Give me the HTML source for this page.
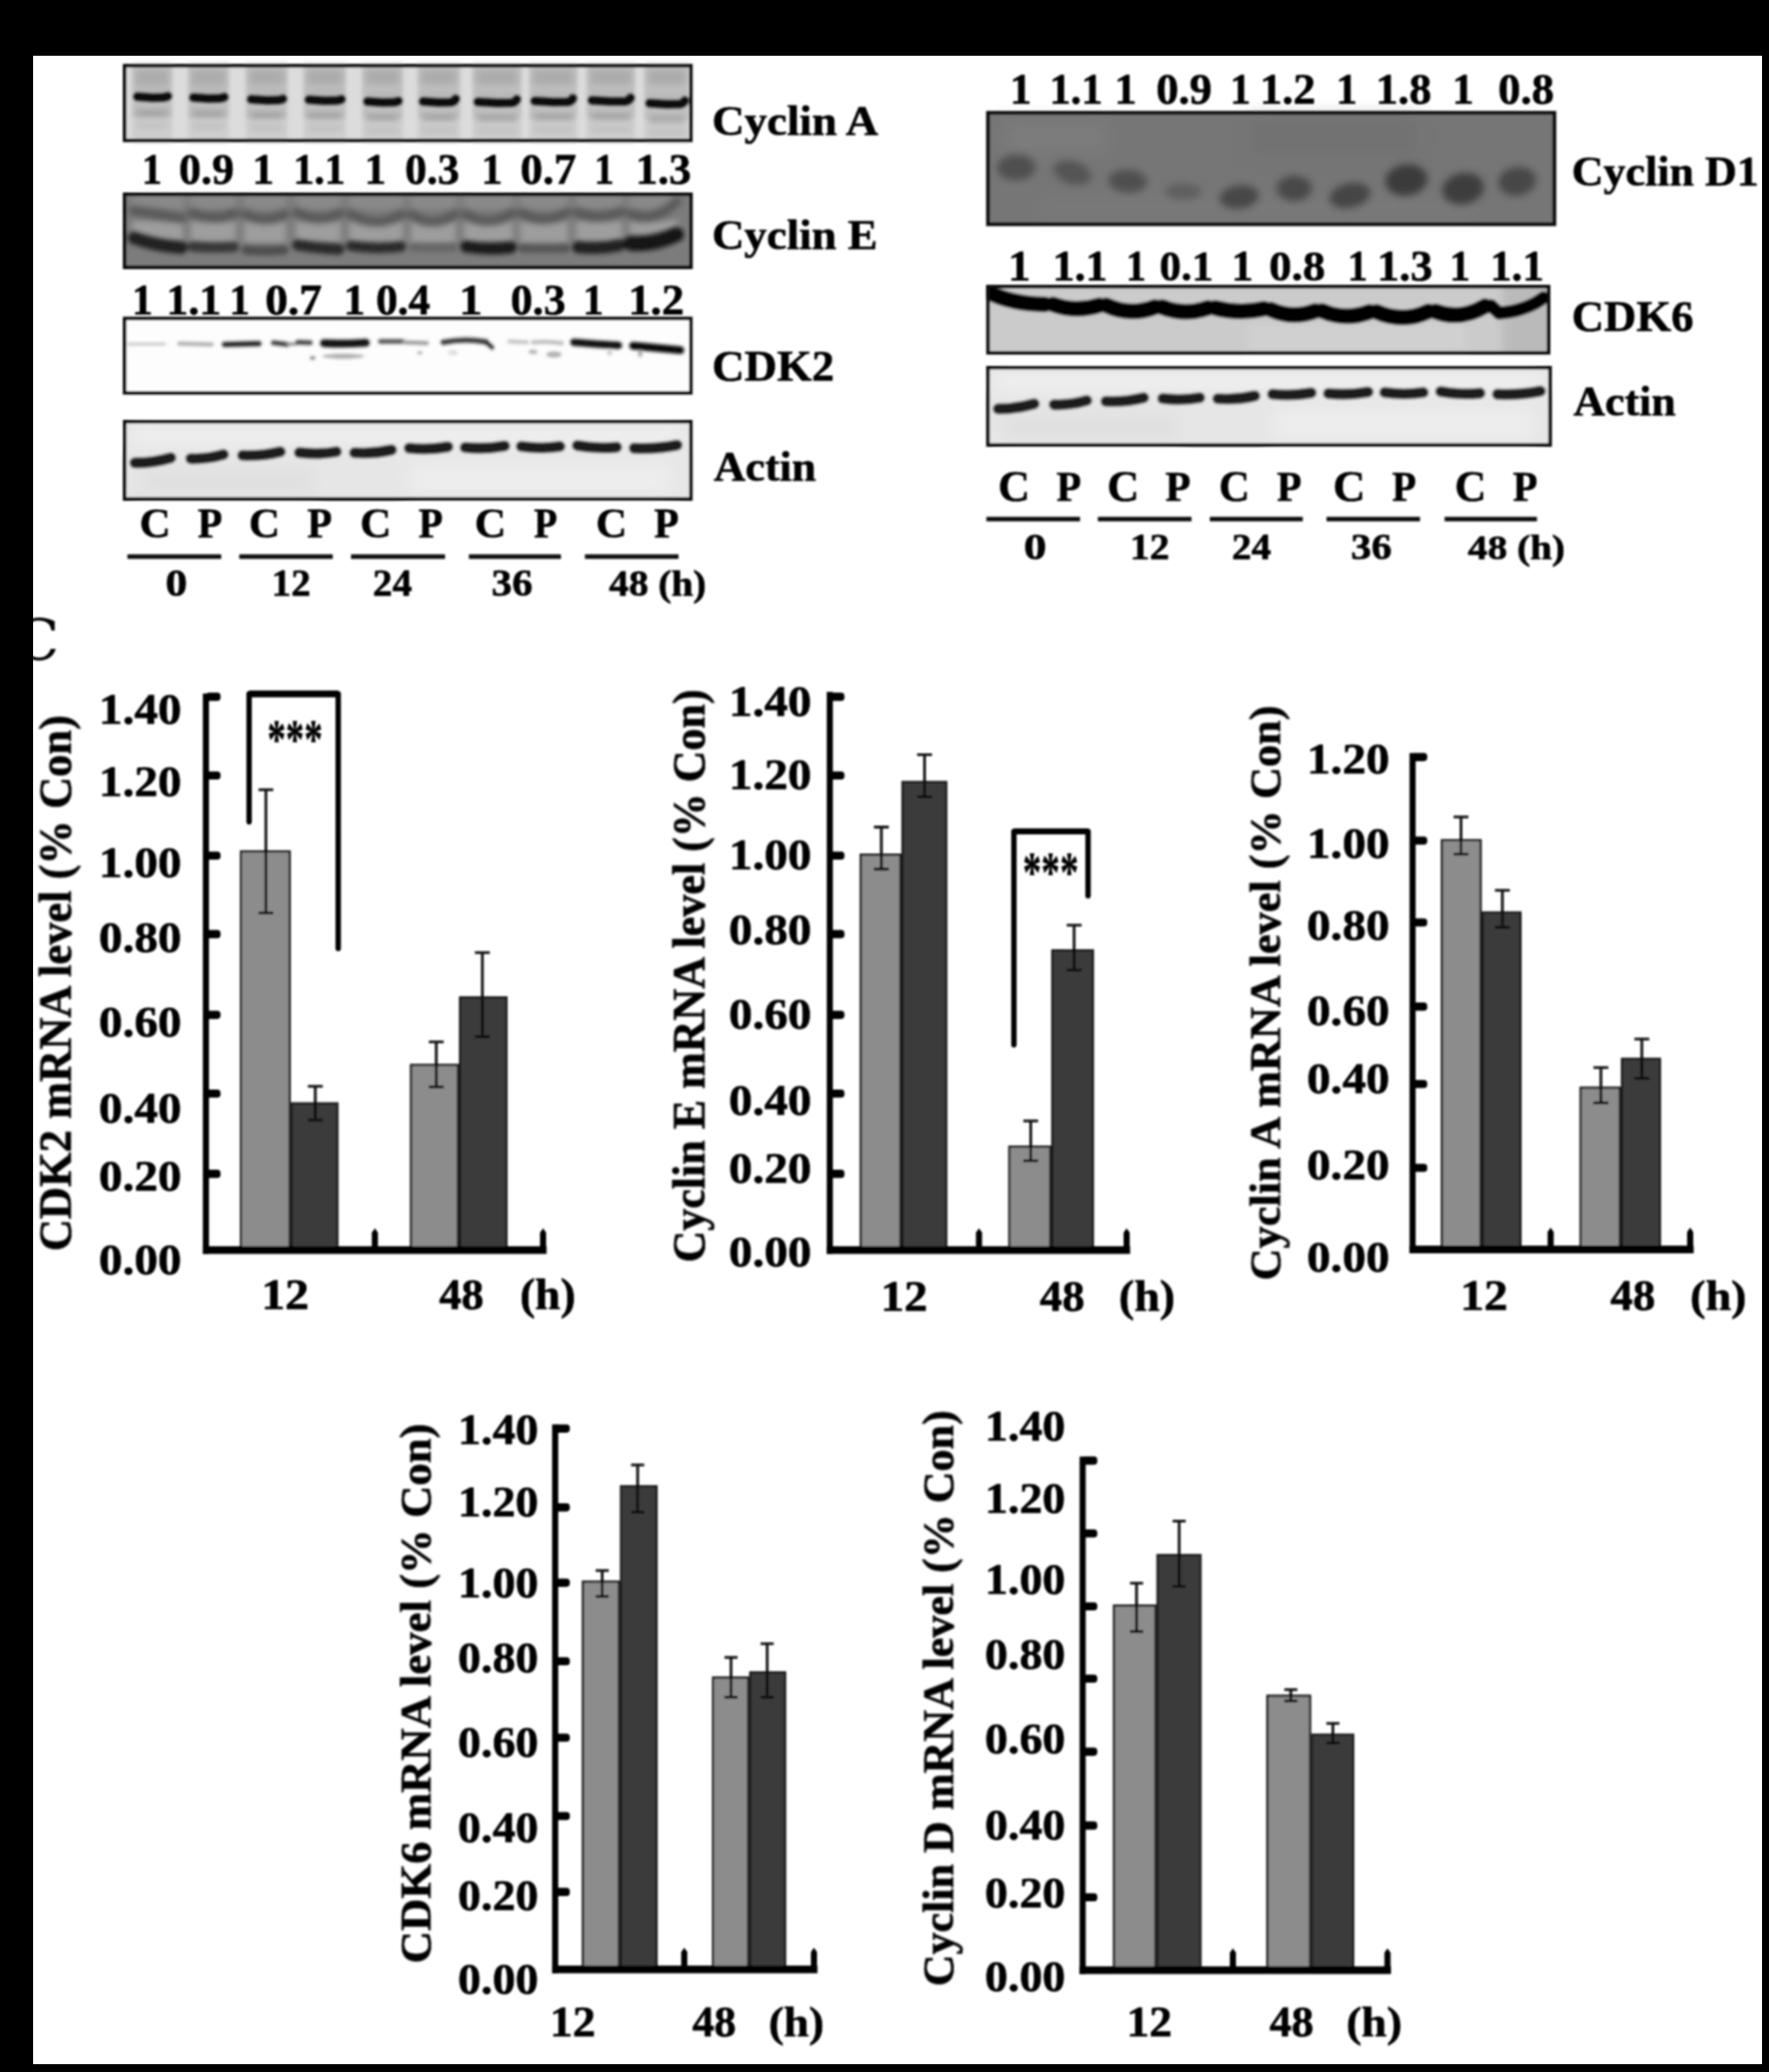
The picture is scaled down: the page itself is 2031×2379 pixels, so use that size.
<!DOCTYPE html>
<html lang="en"><head><meta charset="utf-8"><title>Figure</title>
<style>
html,body{margin:0;padding:0;background:#000;}
body{width:2031px;height:2379px;overflow:hidden;}
svg{display:block;font-family:"Liberation Serif","Times New Roman",serif;}
</style></head><body>
<svg width="2031" height="2379" viewBox="0 0 2031 2379">
<defs>
<filter id="b1" filterUnits="userSpaceOnUse" x="0" y="0" width="2031" height="2379"><feGaussianBlur stdDeviation="1.2"/></filter>
<filter id="b15" filterUnits="userSpaceOnUse" x="0" y="0" width="2031" height="2379"><feGaussianBlur stdDeviation="1.6"/></filter>
<filter id="b2" filterUnits="userSpaceOnUse" x="0" y="0" width="2031" height="2379"><feGaussianBlur stdDeviation="2.2"/></filter>
<filter id="b25" filterUnits="userSpaceOnUse" x="0" y="0" width="2031" height="2379"><feGaussianBlur stdDeviation="2.8"/></filter>
<filter id="b3" filterUnits="userSpaceOnUse" x="0" y="0" width="2031" height="2379"><feGaussianBlur stdDeviation="3.5"/></filter>
<filter id="b35" filterUnits="userSpaceOnUse" x="0" y="0" width="2031" height="2379"><feGaussianBlur stdDeviation="3.4"/></filter>
<filter id="b4" filterUnits="userSpaceOnUse" x="0" y="0" width="2031" height="2379"><feGaussianBlur stdDeviation="4.2"/></filter>
<filter id="b8" filterUnits="userSpaceOnUse" x="0" y="0" width="2031" height="2379"><feGaussianBlur stdDeviation="9"/></filter>
<filter id="b5" filterUnits="userSpaceOnUse" x="0" y="0" width="2031" height="2379"><feGaussianBlur stdDeviation="5"/></filter>
<filter id="soft" filterUnits="userSpaceOnUse" x="0" y="0" width="2031" height="2379"><feGaussianBlur stdDeviation="0.8"/></filter>
<clipPath id="pageclip"><rect x="38" y="64" width="1985" height="2306"/></clipPath>
</defs>
<rect x="0" y="0" width="2031" height="2379" fill="#000"/>
<rect x="38" y="64" width="1985" height="2306" fill="#fff"/>
<g filter="url(#soft)">

<rect x="141" y="73.3" width="654.3" height="90.00000000000001" fill="#dcdcdc"/>
<g filter="url(#b2)">
<rect x="151.7" y="73.3" width="46.0" height="90.00000000000001" fill="#cecece"/>
<rect x="151.7" y="73.3" width="46.0" height="62" fill="#c0c0c0"/>
<rect x="216.0" y="73.3" width="46.6" height="90.00000000000001" fill="#cecece"/>
<rect x="216.0" y="73.3" width="46.6" height="62" fill="#c0c0c0"/>
<rect x="282.3" y="73.3" width="47.6" height="90.00000000000001" fill="#cecece"/>
<rect x="282.3" y="73.3" width="47.6" height="62" fill="#c0c0c0"/>
<rect x="348.6" y="73.3" width="48.4" height="90.00000000000001" fill="#cecece"/>
<rect x="348.6" y="73.3" width="48.4" height="62" fill="#c0c0c0"/>
<rect x="415.9" y="73.3" width="46.5" height="90.00000000000001" fill="#cecece"/>
<rect x="415.9" y="73.3" width="46.5" height="62" fill="#c0c0c0"/>
<rect x="479.7" y="73.3" width="48.5" height="90.00000000000001" fill="#cecece"/>
<rect x="479.7" y="73.3" width="48.5" height="62" fill="#c0c0c0"/>
<rect x="542.6" y="73.3" width="55.8" height="90.00000000000001" fill="#cecece"/>
<rect x="542.6" y="73.3" width="55.8" height="62" fill="#c0c0c0"/>
<rect x="607.9" y="73.3" width="54.8" height="90.00000000000001" fill="#cecece"/>
<rect x="607.9" y="73.3" width="54.8" height="62" fill="#c0c0c0"/>
<rect x="673.6" y="73.3" width="55.4" height="90.00000000000001" fill="#cecece"/>
<rect x="673.6" y="73.3" width="55.4" height="62" fill="#c0c0c0"/>
<rect x="739.8" y="73.3" width="51.5" height="90.00000000000001" fill="#cecece"/>
<rect x="739.8" y="73.3" width="51.5" height="62" fill="#c0c0c0"/>
</g>
<g filter="url(#b3)">
<rect x="155.7" y="80.3" width="38.0" height="17" fill="#a6a6a6" opacity="0.75"/>
<rect x="155.7" y="99.5" width="38.0" height="10" fill="#b0b0b0" opacity="0.6"/>
<rect x="156.7" y="126.5" width="36.0" height="6" fill="#8e8e8e" opacity="0.8"/>
<rect x="156.7" y="141.5" width="36.0" height="5" fill="#b4b4b4" opacity="0.7"/>
<rect x="220.0" y="80.3" width="38.6" height="17" fill="#a6a6a6" opacity="0.75"/>
<rect x="220.0" y="100.5" width="38.6" height="10" fill="#b0b0b0" opacity="0.6"/>
<rect x="221.0" y="127.5" width="36.6" height="6" fill="#8e8e8e" opacity="0.8"/>
<rect x="221.0" y="142.5" width="36.6" height="5" fill="#b4b4b4" opacity="0.7"/>
<rect x="286.3" y="80.3" width="39.6" height="17" fill="#a6a6a6" opacity="0.75"/>
<rect x="286.3" y="102.5" width="39.6" height="10" fill="#b0b0b0" opacity="0.6"/>
<rect x="287.3" y="129.5" width="37.6" height="6" fill="#8e8e8e" opacity="0.8"/>
<rect x="287.3" y="144.5" width="37.6" height="5" fill="#b4b4b4" opacity="0.7"/>
<rect x="352.6" y="80.3" width="40.4" height="17" fill="#a6a6a6" opacity="0.75"/>
<rect x="352.6" y="103.0" width="40.4" height="10" fill="#b0b0b0" opacity="0.6"/>
<rect x="353.6" y="130.0" width="38.4" height="6" fill="#8e8e8e" opacity="0.8"/>
<rect x="353.6" y="145.0" width="38.4" height="5" fill="#b4b4b4" opacity="0.7"/>
<rect x="419.9" y="80.3" width="38.5" height="17" fill="#a6a6a6" opacity="0.75"/>
<rect x="419.9" y="105.0" width="38.5" height="10" fill="#b0b0b0" opacity="0.6"/>
<rect x="420.9" y="132.0" width="36.5" height="6" fill="#8e8e8e" opacity="0.8"/>
<rect x="420.9" y="147.0" width="36.5" height="5" fill="#b4b4b4" opacity="0.7"/>
<rect x="483.7" y="80.3" width="40.5" height="17" fill="#a6a6a6" opacity="0.75"/>
<rect x="483.7" y="105.0" width="40.5" height="10" fill="#b0b0b0" opacity="0.6"/>
<rect x="484.7" y="132.0" width="38.5" height="6" fill="#8e8e8e" opacity="0.8"/>
<rect x="484.7" y="147.0" width="38.5" height="5" fill="#b4b4b4" opacity="0.7"/>
<rect x="546.6" y="80.3" width="47.8" height="17" fill="#a6a6a6" opacity="0.75"/>
<rect x="546.6" y="105.5" width="47.8" height="10" fill="#b0b0b0" opacity="0.6"/>
<rect x="547.6" y="132.5" width="45.8" height="6" fill="#8e8e8e" opacity="0.8"/>
<rect x="547.6" y="147.5" width="45.8" height="5" fill="#b4b4b4" opacity="0.7"/>
<rect x="611.9" y="80.3" width="46.8" height="17" fill="#a6a6a6" opacity="0.75"/>
<rect x="611.9" y="104.4" width="46.8" height="10" fill="#b0b0b0" opacity="0.6"/>
<rect x="612.9" y="131.4" width="44.8" height="6" fill="#8e8e8e" opacity="0.8"/>
<rect x="612.9" y="146.4" width="44.8" height="5" fill="#b4b4b4" opacity="0.7"/>
<rect x="677.6" y="80.3" width="47.4" height="17" fill="#a6a6a6" opacity="0.75"/>
<rect x="677.6" y="103.8" width="47.4" height="10" fill="#b0b0b0" opacity="0.6"/>
<rect x="678.6" y="130.8" width="45.4" height="6" fill="#8e8e8e" opacity="0.8"/>
<rect x="678.6" y="145.8" width="45.4" height="5" fill="#b4b4b4" opacity="0.7"/>
<rect x="743.8" y="80.3" width="43.5" height="17" fill="#a6a6a6" opacity="0.75"/>
<rect x="743.8" y="107.0" width="43.5" height="10" fill="#b0b0b0" opacity="0.6"/>
<rect x="744.8" y="134.0" width="41.5" height="6" fill="#8e8e8e" opacity="0.8"/>
<rect x="744.8" y="149.0" width="41.5" height="5" fill="#b4b4b4" opacity="0.7"/>
</g>
<g filter="url(#b1)" fill="none" stroke="#0e0e0e" stroke-linecap="round" stroke-linejoin="round">
<path d="M157.7,111.0 L174.7,112.3 L186.7,112.1 Q190.7,111.5 192.7,110.5" stroke-width="10"/>
<path d="M222.0,112.0 L239.3,113.3 L251.6,113.1 Q255.6,112.5 257.6,111.5" stroke-width="10"/>
<path d="M288.3,114.0 L306.1,115.3 L318.9,115.1 Q322.9,114.5 324.9,113.5" stroke-width="10"/>
<path d="M354.6,114.5 L372.8,115.8 L386.0,115.6 Q390.0,115.0 392.0,114.0" stroke-width="10"/>
<path d="M421.9,116.5 L439.1,117.8 L451.4,117.6 Q455.4,117.0 457.4,116.0" stroke-width="10"/>
<path d="M485.7,116.5 L504.0,117.8 L517.2,117.6 Q521.2,117.0 523.2,113.5" stroke-width="10"/>
<path d="M548.6,117.0 L570.5,118.3 L587.4,118.1 Q591.4,117.5 593.4,114.0" stroke-width="10"/>
<path d="M613.9,115.9 L635.3,117.2 L651.7,117.0 Q655.7,116.4 657.7,112.9" stroke-width="10"/>
<path d="M679.6,115.3 L701.3,116.6 L718.0,116.4 Q722.0,115.8 724.0,112.3" stroke-width="10"/>
<path d="M745.8,118.5 L765.5,119.8 L780.3,119.6 Q784.3,119.0 786.3,115.5" stroke-width="10"/>
</g>
<rect x="143.1" y="75.4" width="650.1" height="85.8" fill="none" stroke="#101010" stroke-width="4.2"/>
<rect x="141" y="221" width="654.3" height="88" fill="#7c7c7c"/>
<g filter="url(#b3)">
<rect x="152.0" y="253.0" width="58.0" height="26" fill="#9e9e9e"/>
<rect x="152.0" y="225.0" width="58.0" height="15" fill="#8a8a8a"/>
<rect x="219.0" y="253.0" width="51.5" height="26" fill="#9e9e9e"/>
<rect x="219.0" y="225.0" width="51.5" height="15" fill="#8a8a8a"/>
<rect x="280.4" y="253.0" width="47.6" height="26" fill="#9e9e9e"/>
<rect x="280.4" y="225.0" width="47.6" height="15" fill="#8a8a8a"/>
<rect x="339.8" y="253.0" width="51.2" height="26" fill="#9e9e9e"/>
<rect x="339.8" y="225.0" width="51.2" height="15" fill="#8a8a8a"/>
<rect x="401.0" y="253.0" width="61.4" height="26" fill="#9e9e9e"/>
<rect x="401.0" y="225.0" width="61.4" height="15" fill="#8a8a8a"/>
<rect x="471.8" y="253.0" width="51.2" height="26" fill="#9e9e9e"/>
<rect x="471.8" y="225.0" width="51.2" height="15" fill="#8a8a8a"/>
<rect x="533.0" y="253.0" width="55.5" height="26" fill="#9e9e9e"/>
<rect x="533.0" y="225.0" width="55.5" height="15" fill="#8a8a8a"/>
<rect x="597.4" y="253.0" width="54.4" height="26" fill="#9e9e9e"/>
<rect x="597.4" y="225.0" width="54.4" height="15" fill="#8a8a8a"/>
<rect x="661.7" y="253.0" width="52.3" height="26" fill="#9e9e9e"/>
<rect x="661.7" y="225.0" width="52.3" height="15" fill="#8a8a8a"/>
<rect x="723.0" y="253.0" width="55.4" height="26" fill="#9e9e9e"/>
<rect x="723.0" y="225.0" width="55.4" height="15" fill="#8a8a8a"/>
</g>
<g filter="url(#b3)">
<path d="M153.0,241.7 Q181.0,245.9 209.0,250.6" fill="none" stroke="#585858" stroke-width="11" stroke-linecap="round" opacity="1"/>
<path d="M220.0,244.6 Q244.8,254.4 269.5,245.0" fill="none" stroke="#585858" stroke-width="11" stroke-linecap="round" opacity="1"/>
<path d="M281.4,245.6 Q304.2,257.4 327.0,246.0" fill="none" stroke="#585858" stroke-width="11" stroke-linecap="round" opacity="1"/>
<path d="M340.8,244.0 Q365.4,256.7 390.0,245.0" fill="none" stroke="#585858" stroke-width="11" stroke-linecap="round" opacity="1"/>
<path d="M402.0,245.6 Q431.7,263.2 461.4,246.0" fill="none" stroke="#585858" stroke-width="11" stroke-linecap="round" opacity="1"/>
<path d="M472.8,246.6 Q497.4,262.7 522.0,246.0" fill="none" stroke="#585858" stroke-width="11" stroke-linecap="round" opacity="1"/>
<path d="M534.0,246.0 Q560.8,261.5 587.5,245.0" fill="none" stroke="#585858" stroke-width="11" stroke-linecap="round" opacity="1"/>
<path d="M598.4,244.6 Q624.6,258.9 650.8,244.0" fill="none" stroke="#585858" stroke-width="11" stroke-linecap="round" opacity="1"/>
<path d="M662.7,244.0 Q687.9,253.7 713.0,243.0" fill="none" stroke="#585858" stroke-width="11" stroke-linecap="round" opacity="1"/>
<path d="M724.0,245.6 Q750.7,256.9 777.4,231.0" fill="none" stroke="#585858" stroke-width="11" stroke-linecap="round" opacity="1"/>
</g>
<g filter="url(#b25)">
<path d="M154.0,273.3 Q181.0,282.5 208.0,284.2" fill="none" stroke="#242424" stroke-width="15" stroke-linecap="round" opacity="1"/>
<path d="M221.0,283.0 Q244.8,285.2 268.5,283.5" fill="none" stroke="#383838" stroke-width="12" stroke-linecap="round" opacity="1"/>
<path d="M282.4,287.0 Q304.2,289.2 326.0,287.0" fill="none" stroke="#505050" stroke-width="11" stroke-linecap="round" opacity="1"/>
<path d="M341.8,281.3 Q365.4,285.1 389.0,286.2" fill="none" stroke="#2a2a2a" stroke-width="13" stroke-linecap="round" opacity="1"/>
<path d="M403.0,282.3 Q431.7,286.6 460.4,283.0" fill="none" stroke="#2c2c2c" stroke-width="12" stroke-linecap="round" opacity="1"/>
<path d="M473.8,284.0 Q497.4,285.1 521.0,284.0" fill="none" stroke="#686868" stroke-width="10" stroke-linecap="round" opacity="1"/>
<path d="M535.0,283.2 Q560.8,287.3 586.5,284.0" fill="none" stroke="#1e1e1e" stroke-width="14" stroke-linecap="round" opacity="1"/>
<path d="M599.4,285.0 Q624.6,286.1 649.8,285.0" fill="none" stroke="#565656" stroke-width="10" stroke-linecap="round" opacity="1"/>
<path d="M663.7,283.8 Q687.9,286.6 712.0,281.3" fill="none" stroke="#242424" stroke-width="14" stroke-linecap="round" opacity="1"/>
<path d="M725.0,279.3 Q750.7,280.9 776.4,269.4" fill="none" stroke="#141414" stroke-width="18" stroke-linecap="round" opacity="1"/>
</g>
<rect x="143.1" y="223.1" width="650.1" height="83.8" fill="none" stroke="#101010" stroke-width="4.2"/>
<rect x="141" y="363.5" width="654.3" height="89.69999999999999" fill="#fdfdfd"/>
<g filter="url(#b15)">
<path d="M148.0,395.0 Q168.5,395.0 189.0,395.0" fill="none" stroke="#d0d0d0" stroke-width="4" stroke-linecap="round" opacity="1"/>
<path d="M206.0,394.5 Q224.5,395.0 243.0,395.5" fill="none" stroke="#b4b4b4" stroke-width="5" stroke-linecap="round" opacity="1"/>
<path d="M258.0,395.5 Q277.5,395.0 297.0,394.5" fill="none" stroke="#2a2a2a" stroke-width="6.5" stroke-linecap="round" opacity="1"/>
<path d="M314.0,393.5 Q322.0,394.5 330.0,395.5" fill="none" stroke="#4a4a4a" stroke-width="6" stroke-linecap="round" opacity="1"/>
<path d="M331.0,395.0 Q336.0,395.2 341.0,394.5" fill="none" stroke="#999" stroke-width="4" stroke-linecap="round" opacity="1"/>
<path d="M342.0,393.0 Q349.0,392.8 356.0,393.5" fill="none" stroke="#505050" stroke-width="6" stroke-linecap="round" opacity="1"/>
<path d="M372.0,394.0 Q396.0,395.2 420.0,393.5" fill="none" stroke="#121212" stroke-width="9.5" stroke-linecap="round" opacity="1"/>
<path d="M437.0,392.0 Q449.5,392.0 462.0,392.0" fill="none" stroke="#606060" stroke-width="6" stroke-linecap="round" opacity="1"/>
<path d="M464.0,393.0 Q477.0,393.5 490.0,394.0" fill="none" stroke="#a0a0a0" stroke-width="5" stroke-linecap="round" opacity="1"/>
<path d="M509.0,393.0 Q533.5,388.2 558.0,392.5" fill="none" stroke="#404040" stroke-width="6.5" stroke-linecap="round" opacity="1"/>
<path d="M559.0,394.0 Q562.0,395.5 565.0,399.0" fill="none" stroke="#333" stroke-width="5" stroke-linecap="round" opacity="1"/>
<path d="M585.0,392.0 Q595.0,392.5 605.0,393.0" fill="none" stroke="#c8c8c8" stroke-width="5" stroke-linecap="round" opacity="1"/>
<path d="M612.0,393.0 Q628.5,391.5 645.0,394.0" fill="none" stroke="#c0c0c0" stroke-width="5" stroke-linecap="round" opacity="1"/>
<path d="M659.0,393.0 Q684.5,395.2 710.0,396.5" fill="none" stroke="#181818" stroke-width="9" stroke-linecap="round" opacity="1"/>
<path d="M727.0,397.0 Q754.0,399.5 781.0,402.0" fill="none" stroke="#0c0c0c" stroke-width="9.5" stroke-linecap="round" opacity="1"/>
<g fill="#b0b0b0"><ellipse cx="394" cy="409" rx="24" ry="3"/><ellipse cx="359" cy="411" rx="3" ry="2.2" fill="#888"/><ellipse cx="636" cy="407" rx="9" ry="3.5"/><ellipse cx="612" cy="404" rx="5" ry="2.5"/><ellipse cx="482" cy="405" rx="3" ry="2"/><ellipse cx="700" cy="405" rx="3" ry="3" fill="#ccc"/><ellipse cx="735" cy="406" rx="2.5" ry="4" fill="#aaa"/><ellipse cx="520" cy="405" rx="6" ry="3" fill="#ddd"/></g>
</g>
<rect x="143.1" y="365.6" width="650.1" height="85.5" fill="none" stroke="#101010" stroke-width="4.2"/>
<rect x="141" y="482" width="654.3" height="93" fill="#e6e6e6"/>
<g filter="url(#b8)" opacity="0.6"><rect x="151" y="490" width="634.3" height="22" fill="#f4f4f4"/><rect x="471" y="532" width="300" height="35" fill="#f2f2f2"/><rect x="161" y="537" width="200" height="30" fill="#dcdcdc"/></g>
<g filter="url(#b1)">
<path d="M154.8,531.4 Q175.5,531.7 196.2,525.6" fill="none" stroke="#1c1c1c" stroke-width="11.6" stroke-linecap="round" opacity="1"/>
<path d="M219.0,526.6 Q237.8,527.4 256.6,521.8" fill="none" stroke="#1c1c1c" stroke-width="11.6" stroke-linecap="round" opacity="1"/>
<path d="M278.5,522.8 Q300.2,523.9 321.9,518.6" fill="none" stroke="#1c1c1c" stroke-width="11.6" stroke-linecap="round" opacity="1"/>
<path d="M343.7,519.6 Q364.9,522.3 386.2,518.6" fill="none" stroke="#1c1c1c" stroke-width="11.6" stroke-linecap="round" opacity="1"/>
<path d="M407.0,519.8 Q428.2,521.4 449.5,516.5" fill="none" stroke="#1c1c1c" stroke-width="11.6" stroke-linecap="round" opacity="1"/>
<path d="M469.8,514.6 Q492.0,517.0 514.3,513.0" fill="none" stroke="#1c1c1c" stroke-width="11.6" stroke-linecap="round" opacity="1"/>
<path d="M534.0,513.8 Q556.8,516.1 579.5,512.0" fill="none" stroke="#1c1c1c" stroke-width="11.6" stroke-linecap="round" opacity="1"/>
<path d="M598.5,512.5 Q620.7,515.8 642.9,512.6" fill="none" stroke="#1c1c1c" stroke-width="11.6" stroke-linecap="round" opacity="1"/>
<path d="M662.8,511.5 Q685.4,515.7 708.0,513.4" fill="none" stroke="#1c1c1c" stroke-width="11.6" stroke-linecap="round" opacity="1"/>
<path d="M728.0,514.6 Q752.7,516.0 777.4,511.0" fill="none" stroke="#1c1c1c" stroke-width="11.6" stroke-linecap="round" opacity="1"/>
</g>
<rect x="143.1" y="484.1" width="650.1" height="88.8" fill="none" stroke="#101010" stroke-width="4.2"/>
<rect x="1132.2" y="420" width="649.5999999999999" height="93" fill="#e6e6e6"/>
<g filter="url(#b8)" opacity="0.6"><rect x="1142.2" y="428" width="629.5999999999999" height="22" fill="#f4f4f4"/><rect x="1462.2" y="470" width="300" height="35" fill="#f2f2f2"/><rect x="1152.2" y="475" width="200" height="30" fill="#dcdcdc"/></g>
<g filter="url(#b1)">
<path d="M1146.0,469.4 Q1166.7,469.7 1187.4,463.6" fill="none" stroke="#1c1c1c" stroke-width="11.6" stroke-linecap="round" opacity="1"/>
<path d="M1210.2,464.6 Q1229.0,465.4 1247.8,459.8" fill="none" stroke="#1c1c1c" stroke-width="11.6" stroke-linecap="round" opacity="1"/>
<path d="M1269.7,460.8 Q1291.4,461.9 1313.1,456.6" fill="none" stroke="#1c1c1c" stroke-width="11.6" stroke-linecap="round" opacity="1"/>
<path d="M1334.9,457.6 Q1356.2,460.3 1377.4,456.6" fill="none" stroke="#1c1c1c" stroke-width="11.6" stroke-linecap="round" opacity="1"/>
<path d="M1398.2,457.8 Q1419.5,459.4 1440.7,454.5" fill="none" stroke="#1c1c1c" stroke-width="11.6" stroke-linecap="round" opacity="1"/>
<path d="M1461.0,452.6 Q1483.2,455.0 1505.5,451.0" fill="none" stroke="#1c1c1c" stroke-width="11.6" stroke-linecap="round" opacity="1"/>
<path d="M1525.2,451.8 Q1548.0,454.1 1570.7,450.0" fill="none" stroke="#1c1c1c" stroke-width="11.6" stroke-linecap="round" opacity="1"/>
<path d="M1589.7,450.5 Q1611.9,453.8 1634.1,450.6" fill="none" stroke="#1c1c1c" stroke-width="11.6" stroke-linecap="round" opacity="1"/>
<path d="M1654.0,449.5 Q1676.6,453.7 1699.2,451.4" fill="none" stroke="#1c1c1c" stroke-width="11.6" stroke-linecap="round" opacity="1"/>
<path d="M1719.2,452.6 Q1743.9,454.0 1768.6,449.0" fill="none" stroke="#1c1c1c" stroke-width="11.6" stroke-linecap="round" opacity="1"/>
</g>
<rect x="1134.3" y="422.1" width="645.4" height="88.8" fill="none" stroke="#101010" stroke-width="4.2"/>
<rect x="1132.3" y="127.5" width="654.3" height="132.0" fill="#767676"/>
<g filter="url(#b8)" opacity="0.45"><rect x="1152.3" y="137.5" width="120" height="40" fill="#828282"/><rect x="1432.3" y="132.5" width="200" height="50" fill="#6e6e6e"/><rect x="1192.3" y="224.5" width="500" height="25" fill="#7e7e7e"/></g>
<g filter="url(#b4)">
<ellipse cx="1166.8" cy="192.2" rx="22.1" ry="14.8" fill="#505050" transform="rotate(-1.0 1166.8 192.2)"/>
<path d="M1153.7,197.0 Q1166.8,175.5 1180.0,196.0" fill="none" stroke="#505050" stroke-width="9.5" stroke-linecap="round" opacity="0.7"/>
<ellipse cx="1231.2" cy="198.3" rx="22.2" ry="13.3" fill="#545454" transform="rotate(16.9 1231.2 198.3)"/>
<path d="M1218.0,190.0 Q1231.2,189.0 1244.5,208.0" fill="none" stroke="#545454" stroke-width="8.5" stroke-linecap="round" opacity="0.7"/>
<ellipse cx="1294.7" cy="208.0" rx="22.3" ry="13.3" fill="#505050" transform="rotate(3.9 1294.7 208.0)"/>
<path d="M1281.4,210.0 Q1294.7,192.0 1308.0,214.0" fill="none" stroke="#505050" stroke-width="8.5" stroke-linecap="round" opacity="0.7"/>
<ellipse cx="1358.3" cy="220.0" rx="21.6" ry="9.4" fill="#606060" transform="rotate(0.0 1358.3 220.0)"/>
<path d="M1345.7,220.0 Q1358.3,212.0 1371.0,220.0" fill="none" stroke="#606060" stroke-width="6.0" stroke-linecap="round" opacity="0.7"/>
<ellipse cx="1422.8" cy="226.2" rx="22.8" ry="13.3" fill="#464646" transform="rotate(-6.7 1422.8 226.2)"/>
<path d="M1409.0,230.0 Q1422.8,217.5 1436.5,223.0" fill="none" stroke="#464646" stroke-width="8.5" stroke-linecap="round" opacity="0.7"/>
<ellipse cx="1486.0" cy="216.3" rx="20.3" ry="14.8" fill="#4a4a4a" transform="rotate(0.0 1486.0 216.3)"/>
<path d="M1474.7,219.0 Q1486.0,203.0 1497.3,219.0" fill="none" stroke="#4a4a4a" stroke-width="9.5" stroke-linecap="round" opacity="0.7"/>
<ellipse cx="1549.8" cy="224.5" rx="23.8" ry="14.0" fill="#444" transform="rotate(-11.8 1549.8 224.5)"/>
<path d="M1535.0,230.0 Q1549.8,218.5 1564.5,217.0" fill="none" stroke="#444" stroke-width="9.0" stroke-linecap="round" opacity="0.7"/>
<ellipse cx="1614.6" cy="206.7" rx="24.2" ry="17.9" fill="#3a3a3a" transform="rotate(-7.2 1614.6 206.7)"/>
<path d="M1599.4,214.0 Q1614.6,192.0 1629.8,206.0" fill="none" stroke="#3a3a3a" stroke-width="11.5" stroke-linecap="round" opacity="0.7"/>
<ellipse cx="1679.8" cy="216.7" rx="24.1" ry="17.9" fill="#3e3e3e" transform="rotate(-10.7 1679.8 216.7)"/>
<path d="M1664.7,220.0 Q1679.8,214.0 1695.0,208.0" fill="none" stroke="#3e3e3e" stroke-width="11.5" stroke-linecap="round" opacity="0.7"/>
<ellipse cx="1741.8" cy="208.2" rx="21.8" ry="16.4" fill="#464646" transform="rotate(-9.0 1741.8 208.2)"/>
<path d="M1729.0,209.0 Q1741.8,207.5 1754.5,200.0" fill="none" stroke="#464646" stroke-width="10.5" stroke-linecap="round" opacity="0.7"/>
</g>
<rect x="1134.4" y="129.6" width="650.1" height="127.8" fill="none" stroke="#101010" stroke-width="4.2"/>
<rect x="1132.3" y="327" width="647.7" height="80.19999999999999" fill="#cbcbcb"/>
<g clip-path="url(#c6)"><g filter="url(#b5)" opacity="0.6"><rect x="1725" y="307" width="80" height="120.19999999999999" fill="#b0b0b0"/><rect x="1432.3" y="372" width="250" height="30" fill="#d4d4d4"/></g></g>
<clipPath id="c6"><rect x="1132.3" y="327" width="647.7" height="80.19999999999999"/></clipPath>
<g clip-path="url(#c6)"><g filter="url(#b1)">
<path d="M1132,334 Q1160,349 1200,349.5" fill="none" stroke="#060606" stroke-width="17" stroke-linecap="round"/>
<path d="M1209.0,349.5 Q1235.5,359.0 1262.0,350.5" fill="none" stroke="#060606" stroke-width="17" stroke-linecap="round" opacity="1"/>
<path d="M1270.0,350.5 Q1298.0,363.5 1326.0,352.5" fill="none" stroke="#060606" stroke-width="17" stroke-linecap="round" opacity="1"/>
<path d="M1334.0,352.5 Q1360.5,363.0 1387.0,353.5" fill="none" stroke="#060606" stroke-width="17" stroke-linecap="round" opacity="1"/>
<path d="M1395.0,353.5 Q1423.0,361.0 1451.0,354.5" fill="none" stroke="#060606" stroke-width="17" stroke-linecap="round" opacity="1"/>
<path d="M1459.0,355.5 Q1484.5,366.8 1510.0,357.0" fill="none" stroke="#060606" stroke-width="17" stroke-linecap="round" opacity="1"/>
<path d="M1518.0,357.0 Q1545.2,368.5 1572.5,358.0" fill="none" stroke="#060606" stroke-width="17" stroke-linecap="round" opacity="1"/>
<path d="M1580.5,358.0 Q1610.2,371.2 1640.0,357.5" fill="none" stroke="#060606" stroke-width="17" stroke-linecap="round" opacity="1"/>
<path d="M1648.0,357.5 Q1676.5,368.5 1705.0,351.5" fill="none" stroke="#060606" stroke-width="17" stroke-linecap="round" opacity="1"/>
<path d="M1712,351 L1721,359.5 Q1752,357 1772,342" fill="none" stroke="#060606" stroke-width="14" stroke-linecap="round" stroke-linejoin="round"/>
</g></g>
<rect x="1134.4" y="329.1" width="643.5" height="76.0" fill="none" stroke="#101010" stroke-width="4.2"/>
<text transform="translate(162.92,211.20) scale(0.9161,1)" font-size="50.15" font-weight="bold" fill="#000" stroke="#000" stroke-width="0.7">1</text>
<text transform="translate(205.58,211.20) scale(1.0156,1)" font-size="49.77" font-weight="bold" fill="#000" stroke="#000" stroke-width="0.7">0.9</text>
<text transform="translate(289.82,211.20) scale(0.9916,1)" font-size="50.15" font-weight="bold" fill="#000" stroke="#000" stroke-width="0.7">1</text>
<text transform="translate(336.66,211.20) scale(0.9560,1)" font-size="50.15" font-weight="bold" fill="#000" stroke="#000" stroke-width="0.7">1.1</text>
<text transform="translate(418.42,211.20) scale(0.9916,1)" font-size="50.15" font-weight="bold" fill="#000" stroke="#000" stroke-width="0.7">1</text>
<text transform="translate(465.01,211.20) scale(1.0020,1)" font-size="49.77" font-weight="bold" fill="#000" stroke="#000" stroke-width="0.7">0.3</text>
<text transform="translate(552.85,211.20) scale(0.9593,1)" font-size="50.15" font-weight="bold" fill="#000" stroke="#000" stroke-width="0.7">1</text>
<text transform="translate(597.55,211.20) scale(1.0291,1)" font-size="49.77" font-weight="bold" fill="#000" stroke="#000" stroke-width="0.7">0.7</text>
<text transform="translate(682.15,211.20) scale(0.9108,1)" font-size="50.15" font-weight="bold" fill="#000" stroke="#000" stroke-width="0.7">1</text>
<text transform="translate(729.71,211.20) scale(1.0189,1)" font-size="50.15" font-weight="bold" fill="#000" stroke="#000" stroke-width="0.7">1.3</text>
<text transform="translate(151.47,360.80) scale(0.9314,1)" font-size="51.36" font-weight="bold" fill="#000" stroke="#000" stroke-width="0.7">1</text>
<text transform="translate(190.97,360.80) scale(0.9804,1)" font-size="51.36" font-weight="bold" fill="#000" stroke="#000" stroke-width="0.7">1.1</text>
<text transform="translate(263.22,360.80) scale(0.9208,1)" font-size="51.36" font-weight="bold" fill="#000" stroke="#000" stroke-width="0.7">1</text>
<text transform="translate(304.42,360.80) scale(1.0214,1)" font-size="50.98" font-weight="bold" fill="#000" stroke="#000" stroke-width="0.7">0.7</text>
<text transform="translate(394.42,360.80) scale(0.9682,1)" font-size="51.36" font-weight="bold" fill="#000" stroke="#000" stroke-width="0.7">1</text>
<text transform="translate(431.71,360.80) scale(0.9775,1)" font-size="50.98" font-weight="bold" fill="#000" stroke="#000" stroke-width="0.7">0.4</text>
<text transform="translate(526.92,360.80) scale(1.0419,1)" font-size="51.36" font-weight="bold" fill="#000" stroke="#000" stroke-width="0.7">1</text>
<text transform="translate(586.28,360.80) scale(0.9900,1)" font-size="50.98" font-weight="bold" fill="#000" stroke="#000" stroke-width="0.7">0.3</text>
<text transform="translate(669.19,360.80) scale(0.9261,1)" font-size="51.36" font-weight="bold" fill="#000" stroke="#000" stroke-width="0.7">1</text>
<text transform="translate(721.19,360.80) scale(0.9993,1)" font-size="51.36" font-weight="bold" fill="#000" stroke="#000" stroke-width="0.7">1.2</text>
<text transform="translate(160.33,617.00) scale(1.0004,1)" font-size="49.39" font-weight="bold" fill="#000" stroke="#000" stroke-width="0.7">C</text>
<text transform="translate(227.01,617.00) scale(0.9687,1)" font-size="47.63" font-weight="bold" fill="#000" stroke="#000" stroke-width="0.7">P</text>
<text transform="translate(285.83,617.00) scale(1.0004,1)" font-size="49.39" font-weight="bold" fill="#000" stroke="#000" stroke-width="0.7">C</text>
<text transform="translate(352.70,617.00) scale(0.9760,1)" font-size="47.63" font-weight="bold" fill="#000" stroke="#000" stroke-width="0.7">P</text>
<text transform="translate(413.53,617.00) scale(1.0004,1)" font-size="49.39" font-weight="bold" fill="#000" stroke="#000" stroke-width="0.7">C</text>
<text transform="translate(480.52,617.00) scale(0.9576,1)" font-size="47.63" font-weight="bold" fill="#000" stroke="#000" stroke-width="0.7">P</text>
<text transform="translate(545.10,617.00) scale(1.0106,1)" font-size="49.39" font-weight="bold" fill="#000" stroke="#000" stroke-width="0.7">C</text>
<text transform="translate(613.04,617.00) scale(0.9171,1)" font-size="47.63" font-weight="bold" fill="#000" stroke="#000" stroke-width="0.7">P</text>
<text transform="translate(684.13,617.00) scale(1.0004,1)" font-size="49.39" font-weight="bold" fill="#000" stroke="#000" stroke-width="0.7">C</text>
<text transform="translate(750.91,617.00) scale(0.9723,1)" font-size="47.63" font-weight="bold" fill="#000" stroke="#000" stroke-width="0.7">P</text>
<rect x="146.3" y="636.5" width="107.7" height="5.2" fill="#0c0c0c"/>
<rect x="274.7" y="636.5" width="107.3" height="5.2" fill="#0c0c0c"/>
<rect x="403" y="636.5" width="108.0" height="5.2" fill="#0c0c0c"/>
<rect x="538.3" y="636.5" width="105.7" height="5.2" fill="#0c0c0c"/>
<rect x="671.6" y="636.5" width="107.4" height="5.2" fill="#0c0c0c"/>
<text transform="translate(190.00,684.40) scale(1.1310,1)" font-size="44.21" font-weight="bold" fill="#000" stroke="#000" stroke-width="0.7">0</text>
<text transform="translate(311.80,684.40) scale(1.0102,1)" font-size="44.55" font-weight="bold" fill="#000" stroke="#000" stroke-width="0.7">12</text>
<text transform="translate(427.90,684.40) scale(1.0102,1)" font-size="44.55" font-weight="bold" fill="#000" stroke="#000" stroke-width="0.7">24</text>
<text transform="translate(564.35,684.40) scale(1.0564,1)" font-size="44.55" font-weight="bold" fill="#000" stroke="#000" stroke-width="0.7">36</text>
<text transform="translate(699.32,684.40) scale(1.0670,1)" font-size="42.30" font-weight="bold" fill="#000" stroke="#000" stroke-width="0.7">48 (h)</text>
<text transform="translate(817.42,154.70) scale(1.0589,1)" font-size="48.78" font-weight="bold" fill="#000" stroke="#000" stroke-width="0.7">Cyclin A</text>
<text transform="translate(817.43,286.00) scale(1.0519,1)" font-size="48.92" font-weight="bold" fill="#000" stroke="#000" stroke-width="0.7">Cyclin E</text>
<text transform="translate(817.42,437.00) scale(1.0016,1)" font-size="51.52" font-weight="bold" fill="#000" stroke="#000" stroke-width="0.7">CDK2</text>
<text transform="translate(819.50,552.40) scale(1.0472,1)" font-size="48.06" font-weight="bold" fill="#000" stroke="#000" stroke-width="0.7">Actin</text>
<text transform="translate(1159.62,118.50) scale(0.9768,1)" font-size="50.91" font-weight="bold" fill="#000" stroke="#000" stroke-width="0.7">1</text>
<text transform="translate(1204.90,118.50) scale(0.9576,1)" font-size="50.91" font-weight="bold" fill="#000" stroke="#000" stroke-width="0.7">1.1</text>
<text transform="translate(1279.61,118.50) scale(1.0034,1)" font-size="50.91" font-weight="bold" fill="#000" stroke="#000" stroke-width="0.7">1</text>
<text transform="translate(1327.45,118.50) scale(1.0140,1)" font-size="50.53" font-weight="bold" fill="#000" stroke="#000" stroke-width="0.7">0.9</text>
<text transform="translate(1412.22,118.50) scale(0.9291,1)" font-size="50.91" font-weight="bold" fill="#000" stroke="#000" stroke-width="0.7">1</text>
<text transform="translate(1446.40,118.50) scale(1.0065,1)" font-size="50.91" font-weight="bold" fill="#000" stroke="#000" stroke-width="0.7">1.2</text>
<text transform="translate(1534.11,118.50) scale(0.9556,1)" font-size="50.91" font-weight="bold" fill="#000" stroke="#000" stroke-width="0.7">1</text>
<text transform="translate(1579.62,118.50) scale(1.0096,1)" font-size="50.53" font-weight="bold" fill="#000" stroke="#000" stroke-width="0.7">1.8</text>
<text transform="translate(1667.32,118.50) scale(0.9768,1)" font-size="50.91" font-weight="bold" fill="#000" stroke="#000" stroke-width="0.7">1</text>
<text transform="translate(1719.94,118.50) scale(1.0174,1)" font-size="50.53" font-weight="bold" fill="#000" stroke="#000" stroke-width="0.7">0.8</text>
<text transform="translate(1157.49,322.30) scale(1.0333,1)" font-size="49.70" font-weight="bold" fill="#000" stroke="#000" stroke-width="0.7">1</text>
<text transform="translate(1208.46,322.30) scale(1.0151,1)" font-size="49.70" font-weight="bold" fill="#000" stroke="#000" stroke-width="0.7">1.1</text>
<text transform="translate(1292.72,322.30) scale(0.9245,1)" font-size="49.70" font-weight="bold" fill="#000" stroke="#000" stroke-width="0.7">1</text>
<text transform="translate(1331.22,322.30) scale(1.0032,1)" font-size="49.32" font-weight="bold" fill="#000" stroke="#000" stroke-width="0.7">0.1</text>
<text transform="translate(1414.04,322.30) scale(0.9952,1)" font-size="49.70" font-weight="bold" fill="#000" stroke="#000" stroke-width="0.7">1</text>
<text transform="translate(1456.93,322.30) scale(1.0474,1)" font-size="49.32" font-weight="bold" fill="#000" stroke="#000" stroke-width="0.7">0.8</text>
<text transform="translate(1547.32,322.30) scale(0.9245,1)" font-size="49.70" font-weight="bold" fill="#000" stroke="#000" stroke-width="0.7">1</text>
<text transform="translate(1580.91,322.30) scale(1.0283,1)" font-size="49.70" font-weight="bold" fill="#000" stroke="#000" stroke-width="0.7">1.3</text>
<text transform="translate(1664.22,322.30) scale(0.9517,1)" font-size="49.70" font-weight="bold" fill="#000" stroke="#000" stroke-width="0.7">1</text>
<text transform="translate(1711.07,322.30) scale(0.9881,1)" font-size="49.70" font-weight="bold" fill="#000" stroke="#000" stroke-width="0.7">1.1</text>
<text transform="translate(1146.08,574.70) scale(1.0054,1)" font-size="50.15" font-weight="bold" fill="#000" stroke="#000" stroke-width="0.7">C</text>
<text transform="translate(1212.91,574.70) scale(0.9570,1)" font-size="48.40" font-weight="bold" fill="#000" stroke="#000" stroke-width="0.7">P</text>
<text transform="translate(1271.26,574.70) scale(1.0121,1)" font-size="50.15" font-weight="bold" fill="#000" stroke="#000" stroke-width="0.7">C</text>
<text transform="translate(1338.09,574.70) scale(0.9751,1)" font-size="48.40" font-weight="bold" fill="#000" stroke="#000" stroke-width="0.7">P</text>
<text transform="translate(1399.45,574.70) scale(0.9752,1)" font-size="50.15" font-weight="bold" fill="#000" stroke="#000" stroke-width="0.7">C</text>
<text transform="translate(1465.91,574.70) scale(0.9570,1)" font-size="48.40" font-weight="bold" fill="#000" stroke="#000" stroke-width="0.7">P</text>
<text transform="translate(1530.44,574.70) scale(1.0221,1)" font-size="50.15" font-weight="bold" fill="#000" stroke="#000" stroke-width="0.7">C</text>
<text transform="translate(1598.32,574.70) scale(0.9316,1)" font-size="48.40" font-weight="bold" fill="#000" stroke="#000" stroke-width="0.7">P</text>
<text transform="translate(1670.20,574.70) scale(0.9953,1)" font-size="50.15" font-weight="bold" fill="#000" stroke="#000" stroke-width="0.7">C</text>
<text transform="translate(1737.01,574.70) scale(0.9534,1)" font-size="48.40" font-weight="bold" fill="#000" stroke="#000" stroke-width="0.7">P</text>
<rect x="1132.5" y="593.4" width="107.5" height="5.2" fill="#0c0c0c"/>
<rect x="1260.5" y="593.4" width="107.5" height="5.2" fill="#0c0c0c"/>
<rect x="1389" y="593.4" width="106.7" height="5.2" fill="#0c0c0c"/>
<rect x="1523" y="593.4" width="107.3" height="5.2" fill="#0c0c0c"/>
<rect x="1658.6" y="593.4" width="106.0" height="5.2" fill="#0c0c0c"/>
<text transform="translate(1175.62,641.60) scale(1.2154,1)" font-size="42.71" font-weight="bold" fill="#000" stroke="#000" stroke-width="0.7">0</text>
<text transform="translate(1297.36,641.60) scale(1.0563,1)" font-size="43.03" font-weight="bold" fill="#000" stroke="#000" stroke-width="0.7">12</text>
<text transform="translate(1414.20,641.60) scale(1.0482,1)" font-size="43.03" font-weight="bold" fill="#000" stroke="#000" stroke-width="0.7">24</text>
<text transform="translate(1550.96,641.60) scale(1.0886,1)" font-size="43.03" font-weight="bold" fill="#000" stroke="#000" stroke-width="0.7">36</text>
<text transform="translate(1685.32,641.60) scale(1.1045,1)" font-size="40.86" font-weight="bold" fill="#000" stroke="#000" stroke-width="0.7">48 (h)</text>
<text transform="translate(1804.47,212.60) scale(1.0359,1)" font-size="48.78" font-weight="bold" fill="#000" stroke="#000" stroke-width="0.7">Cyclin D1</text>
<text transform="translate(1804.43,380.00) scale(1.0157,1)" font-size="50.61" font-weight="bold" fill="#000" stroke="#000" stroke-width="0.7">CDK6</text>
<text transform="translate(1806.50,476.70) scale(1.0287,1)" font-size="48.92" font-weight="bold" fill="#000" stroke="#000" stroke-width="0.7">Actin</text>
<text transform="translate(17.90,757.60) scale(1.0080,1)" font-size="64.86" font-weight="normal" fill="#000" stroke="#000" stroke-width="0.7" style="font-family:'DejaVu Serif',serif;stroke-width:0">C</text>
<rect x="276.7" y="977.6" width="55.9" height="458.9" fill="#8c8c8c" stroke="#1c1c1c" stroke-width="2.6"/>
<rect x="335.0" y="1266.9" width="52.4" height="169.6" fill="#3a3a3a" stroke="#1c1c1c" stroke-width="2.6"/>
<rect x="471.9" y="1222.8" width="53.9" height="213.7" fill="#8c8c8c" stroke="#1c1c1c" stroke-width="2.6"/>
<rect x="528.2" y="1145.2" width="53.3" height="291.3" fill="#3a3a3a" stroke="#1c1c1c" stroke-width="2.6"/>
<path d="M305.3,906.8 V1048.3 M296.8,906.8 H313.8 M296.8,1048.3 H313.8" fill="none" stroke="#0a0a0a" stroke-width="3.1"/>
<path d="M362.0,1247.3 V1286.0 M353.5,1247.3 H370.5 M353.5,1286.0 H370.5" fill="none" stroke="#0a0a0a" stroke-width="3.1"/>
<path d="M500.9,1196.3 V1248.0 M492.4,1196.3 H509.4 M492.4,1248.0 H509.4" fill="none" stroke="#0a0a0a" stroke-width="3.1"/>
<path d="M553.8,1093.7 V1190.4 M545.3,1093.7 H562.3 M545.3,1190.4 H562.3" fill="none" stroke="#0a0a0a" stroke-width="3.1"/>
<rect x="232.9" y="796.3" width="7" height="643.3" fill="#000"/>
<rect x="232.9" y="1430.9" width="394.6" height="8.8" fill="#000"/>
<rect x="236.4" y="795.3" width="16.8" height="9.4" rx="3.8" fill="#000"/>
<rect x="236.4" y="885.7" width="16.8" height="9.4" rx="3.8" fill="#000"/>
<rect x="236.4" y="977.7" width="16.8" height="9.4" rx="3.8" fill="#000"/>
<rect x="236.4" y="1067.8" width="16.8" height="9.4" rx="3.8" fill="#000"/>
<rect x="236.4" y="1160.5" width="16.8" height="9.4" rx="3.8" fill="#000"/>
<rect x="236.4" y="1250.9" width="16.8" height="9.4" rx="3.8" fill="#000"/>
<rect x="236.4" y="1343.1" width="16.8" height="9.4" rx="3.8" fill="#000"/>
<path d="M426.9,1435.3 V1415.3 L430.4,1410.3 L433.9,1415.3 V1435.3 Z" fill="#000"/>
<path d="M620.0,1435.3 V1415.3 L623.5,1410.3 L627.0,1415.3 V1435.3 Z" fill="#000"/>
<text transform="translate(113.62,830.50) scale(1.0780,1)" font-size="50.23" font-weight="bold" fill="#000" stroke="#000" stroke-width="0.7">1.40</text>
<text transform="translate(113.62,913.60) scale(1.0780,1)" font-size="50.23" font-weight="bold" fill="#000" stroke="#000" stroke-width="0.7">1.20</text>
<text transform="translate(113.62,1006.90) scale(1.0780,1)" font-size="50.23" font-weight="bold" fill="#000" stroke="#000" stroke-width="0.7">1.00</text>
<text transform="translate(113.62,1092.90) scale(1.0780,1)" font-size="50.23" font-weight="bold" fill="#000" stroke="#000" stroke-width="0.7">0.80</text>
<text transform="translate(113.62,1190.20) scale(1.0780,1)" font-size="50.23" font-weight="bold" fill="#000" stroke="#000" stroke-width="0.7">0.60</text>
<text transform="translate(113.62,1289.40) scale(1.0780,1)" font-size="50.23" font-weight="bold" fill="#000" stroke="#000" stroke-width="0.7">0.40</text>
<text transform="translate(113.62,1366.60) scale(1.0780,1)" font-size="50.23" font-weight="bold" fill="#000" stroke="#000" stroke-width="0.7">0.20</text>
<text transform="translate(113.62,1463.20) scale(1.0780,1)" font-size="50.23" font-weight="bold" fill="#000" stroke="#000" stroke-width="0.7">0.00</text>
<text transform="translate(81.29,1436.55) rotate(-90) scale(0.9620,1)" font-size="53.08" font-weight="bold" stroke="#000" stroke-width="0.7">CDK2 mRNA level (% Con)</text>
<text transform="translate(299.91,1503.00) scale(1.0717,1)" font-size="51.21" font-weight="bold" fill="#000" stroke="#000" stroke-width="0.7">12</text>
<text transform="translate(504.23,1503.00) scale(1.0086,1)" font-size="50.83" font-weight="bold" fill="#000" stroke="#000" stroke-width="0.7">48</text>
<text transform="translate(596.95,1503.00) scale(1.0525,1)" font-size="49.64" font-weight="bold" fill="#000" stroke="#000" stroke-width="0.7">(h)</text>
<path d="M286.0,943.6 V796.7 H388.3 V1089.0" fill="none" stroke="#000" stroke-width="6.2" stroke-linecap="round" stroke-linejoin="round"/>
<rect x="286.0" y="792.8" width="102.3" height="7.8" fill="#000"/>
<text transform="translate(306.90,870.19) scale(0.6680,1)" font-size="63.47" font-weight="bold" stroke="#000" stroke-width="0.5">***</text>
<rect x="988.2" y="981.3" width="45.6" height="455.2" fill="#8c8c8c" stroke="#1c1c1c" stroke-width="2.6"/>
<rect x="1036.2" y="897.9" width="50.2" height="538.6" fill="#3a3a3a" stroke="#1c1c1c" stroke-width="2.6"/>
<rect x="1158.9" y="1316.6" width="46.9" height="119.9" fill="#8c8c8c" stroke="#1c1c1c" stroke-width="2.6"/>
<rect x="1208.2" y="1091.2" width="46.6" height="345.3" fill="#3a3a3a" stroke="#1c1c1c" stroke-width="2.6"/>
<path d="M1011.9,949.6 V997.9 M1003.4,949.6 H1020.4 M1003.4,997.9 H1020.4" fill="none" stroke="#0a0a0a" stroke-width="3.1"/>
<path d="M1061.5,866.5 V914.8 M1053.0,866.5 H1070.0 M1053.0,914.8 H1070.0" fill="none" stroke="#0a0a0a" stroke-width="3.1"/>
<path d="M1183.4,1287.0 V1332.8 M1174.9,1287.0 H1191.9 M1174.9,1332.8 H1191.9" fill="none" stroke="#0a0a0a" stroke-width="3.1"/>
<path d="M1233.2,1062.2 V1113.7 M1224.7,1062.2 H1241.7 M1224.7,1113.7 H1241.7" fill="none" stroke="#0a0a0a" stroke-width="3.1"/>
<rect x="949.2" y="794.4" width="7" height="645.2" fill="#000"/>
<rect x="949.2" y="1430.9" width="348.3" height="8.8" fill="#000"/>
<rect x="952.7" y="795.3" width="16.8" height="9.4" rx="3.8" fill="#000"/>
<rect x="952.7" y="885.7" width="16.8" height="9.4" rx="3.8" fill="#000"/>
<rect x="952.7" y="977.7" width="16.8" height="9.4" rx="3.8" fill="#000"/>
<rect x="952.7" y="1067.8" width="16.8" height="9.4" rx="3.8" fill="#000"/>
<rect x="952.7" y="1160.5" width="16.8" height="9.4" rx="3.8" fill="#000"/>
<rect x="952.7" y="1250.9" width="16.8" height="9.4" rx="3.8" fill="#000"/>
<rect x="952.7" y="1343.1" width="16.8" height="9.4" rx="3.8" fill="#000"/>
<path d="M1120.5,1435.3 V1415.3 L1124.0,1410.3 L1127.5,1415.3 V1435.3 Z" fill="#000"/>
<path d="M1290.0,1435.3 V1415.3 L1293.5,1410.3 L1297.0,1415.3 V1435.3 Z" fill="#000"/>
<text transform="translate(836.82,821.50) scale(1.0780,1)" font-size="50.23" font-weight="bold" fill="#000" stroke="#000" stroke-width="0.7">1.40</text>
<text transform="translate(836.82,905.50) scale(1.0780,1)" font-size="50.23" font-weight="bold" fill="#000" stroke="#000" stroke-width="0.7">1.20</text>
<text transform="translate(836.82,997.90) scale(1.0780,1)" font-size="50.23" font-weight="bold" fill="#000" stroke="#000" stroke-width="0.7">1.00</text>
<text transform="translate(836.82,1083.50) scale(1.0780,1)" font-size="50.23" font-weight="bold" fill="#000" stroke="#000" stroke-width="0.7">0.80</text>
<text transform="translate(836.82,1180.90) scale(1.0780,1)" font-size="50.23" font-weight="bold" fill="#000" stroke="#000" stroke-width="0.7">0.60</text>
<text transform="translate(836.82,1280.10) scale(1.0780,1)" font-size="50.23" font-weight="bold" fill="#000" stroke="#000" stroke-width="0.7">0.40</text>
<text transform="translate(836.82,1358.10) scale(1.0780,1)" font-size="50.23" font-weight="bold" fill="#000" stroke="#000" stroke-width="0.7">0.20</text>
<text transform="translate(836.82,1453.90) scale(1.0780,1)" font-size="50.23" font-weight="bold" fill="#000" stroke="#000" stroke-width="0.7">0.00</text>
<text transform="translate(808.80,1449.53) rotate(-90) scale(0.9701,1)" font-size="52.09" font-weight="bold" stroke="#000" stroke-width="0.7">Cyclin E mRNA level (% Con)</text>
<text transform="translate(1011.07,1505.00) scale(1.0500,1)" font-size="51.52" font-weight="bold" fill="#000" stroke="#000" stroke-width="0.7">12</text>
<text transform="translate(1193.83,1505.00) scale(1.0088,1)" font-size="51.13" font-weight="bold" fill="#000" stroke="#000" stroke-width="0.7">48</text>
<text transform="translate(1284.62,1505.00) scale(1.0649,1)" font-size="49.64" font-weight="bold" fill="#000" stroke="#000" stroke-width="0.7">(h)</text>
<path d="M1164.1,1199.6 V954.6 H1249.2 V1028.4" fill="none" stroke="#000" stroke-width="6.2" stroke-linecap="round" stroke-linejoin="round"/>
<rect x="1164.1" y="951.2" width="85.1" height="6.8" fill="#000"/>
<text transform="translate(1174.30,1022.77) scale(0.6575,1)" font-size="64.80" font-weight="bold" stroke="#000" stroke-width="0.5">***</text>
<rect x="1655.4" y="964.7" width="44.5" height="471.1" fill="#8c8c8c" stroke="#1c1c1c" stroke-width="2.6"/>
<rect x="1702.3" y="1047.7" width="43.4" height="388.1" fill="#3a3a3a" stroke="#1c1c1c" stroke-width="2.6"/>
<rect x="1814.8" y="1248.9" width="45.0" height="186.9" fill="#8c8c8c" stroke="#1c1c1c" stroke-width="2.6"/>
<rect x="1862.2" y="1215.7" width="43.6" height="220.1" fill="#3a3a3a" stroke="#1c1c1c" stroke-width="2.6"/>
<path d="M1677.4,938.0 V980.8 M1668.9,938.0 H1685.9 M1668.9,980.8 H1685.9" fill="none" stroke="#0a0a0a" stroke-width="3.1"/>
<path d="M1724.9,1022.3 V1064.7 M1716.4,1022.3 H1733.4 M1716.4,1064.7 H1733.4" fill="none" stroke="#0a0a0a" stroke-width="3.1"/>
<path d="M1838.0,1225.7 V1266.4 M1829.5,1225.7 H1846.5 M1829.5,1266.4 H1846.5" fill="none" stroke="#0a0a0a" stroke-width="3.1"/>
<path d="M1885.0,1193.0 V1238.2 M1876.5,1193.0 H1893.5 M1876.5,1238.2 H1893.5" fill="none" stroke="#0a0a0a" stroke-width="3.1"/>
<rect x="1618.3" y="864.6" width="7" height="574.3" fill="#000"/>
<rect x="1618.3" y="1430.2" width="326.2" height="8.8" fill="#000"/>
<rect x="1621.8" y="864.5" width="16.8" height="9.4" rx="3.8" fill="#000"/>
<rect x="1621.8" y="960.4" width="16.8" height="9.4" rx="3.8" fill="#000"/>
<rect x="1621.8" y="1054.4" width="16.8" height="9.4" rx="3.8" fill="#000"/>
<rect x="1621.8" y="1151.1" width="16.8" height="9.4" rx="3.8" fill="#000"/>
<rect x="1621.8" y="1239.9" width="16.8" height="9.4" rx="3.8" fill="#000"/>
<rect x="1621.8" y="1336.2" width="16.8" height="9.4" rx="3.8" fill="#000"/>
<path d="M1776.8,1434.6 V1414.6 L1780.3,1409.6 L1783.8,1414.6 V1434.6 Z" fill="#000"/>
<path d="M1937.0,1434.6 V1414.6 L1940.5,1409.6 L1944.0,1414.6 V1434.6 Z" fill="#000"/>
<text transform="translate(1500.52,887.80) scale(1.0780,1)" font-size="50.23" font-weight="bold" fill="#000" stroke="#000" stroke-width="0.7">1.20</text>
<text transform="translate(1500.52,985.00) scale(1.0780,1)" font-size="50.23" font-weight="bold" fill="#000" stroke="#000" stroke-width="0.7">1.00</text>
<text transform="translate(1500.52,1079.40) scale(1.0780,1)" font-size="50.23" font-weight="bold" fill="#000" stroke="#000" stroke-width="0.7">0.80</text>
<text transform="translate(1500.52,1176.60) scale(1.0780,1)" font-size="50.23" font-weight="bold" fill="#000" stroke="#000" stroke-width="0.7">0.60</text>
<text transform="translate(1500.52,1255.30) scale(1.0780,1)" font-size="50.23" font-weight="bold" fill="#000" stroke="#000" stroke-width="0.7">0.40</text>
<text transform="translate(1500.52,1354.20) scale(1.0780,1)" font-size="50.23" font-weight="bold" fill="#000" stroke="#000" stroke-width="0.7">0.20</text>
<text transform="translate(1500.52,1459.60) scale(1.0780,1)" font-size="50.23" font-weight="bold" fill="#000" stroke="#000" stroke-width="0.7">0.00</text>
<text transform="translate(1469.60,1470.15) rotate(-90) scale(1.0136,1)" font-size="50.22" font-weight="bold" stroke="#000" stroke-width="0.7">Cyclin A mRNA level (% Con)</text>
<text transform="translate(1676.41,1503.70) scale(1.0846,1)" font-size="50.61" font-weight="bold" fill="#000" stroke="#000" stroke-width="0.7">12</text>
<text transform="translate(1848.93,1503.70) scale(1.0249,1)" font-size="50.23" font-weight="bold" fill="#000" stroke="#000" stroke-width="0.7">48</text>
<text transform="translate(1940.62,1503.70) scale(1.0743,1)" font-size="49.21" font-weight="bold" fill="#000" stroke="#000" stroke-width="0.7">(h)</text>
<rect x="669.2" y="1816.0" width="41.4" height="446.4" fill="#8c8c8c" stroke="#1c1c1c" stroke-width="2.6"/>
<rect x="713.0" y="1706.5" width="40.8" height="555.9" fill="#3a3a3a" stroke="#1c1c1c" stroke-width="2.6"/>
<rect x="818.7" y="1926.1" width="40.3" height="336.3" fill="#8c8c8c" stroke="#1c1c1c" stroke-width="2.6"/>
<rect x="861.4" y="1920.2" width="40.0" height="342.2" fill="#3a3a3a" stroke="#1c1c1c" stroke-width="2.6"/>
<path d="M691.4,1803.3 V1833.0 M683.9,1803.3 H698.9 M683.9,1833.0 H698.9" fill="none" stroke="#0a0a0a" stroke-width="3.1"/>
<path d="M732.1,1682.0 V1736.3 M724.6,1682.0 H739.6 M724.6,1736.3 H739.6" fill="none" stroke="#0a0a0a" stroke-width="3.1"/>
<path d="M839.3,1903.0 V1948.6 M831.8,1903.0 H846.8 M831.8,1948.6 H846.8" fill="none" stroke="#0a0a0a" stroke-width="3.1"/>
<path d="M880.8,1887.3 V1948.6 M873.3,1887.3 H888.3 M873.3,1948.6 H888.3" fill="none" stroke="#0a0a0a" stroke-width="3.1"/>
<rect x="633.9" y="1635.4" width="7" height="630.1" fill="#000"/>
<rect x="633.9" y="2256.8" width="304.6" height="8.8" fill="#000"/>
<rect x="637.4" y="1635.5" width="16.8" height="9.4" rx="3.8" fill="#000"/>
<rect x="637.4" y="1726.0" width="16.8" height="9.4" rx="3.8" fill="#000"/>
<rect x="637.4" y="1812.5" width="16.8" height="9.4" rx="3.8" fill="#000"/>
<rect x="637.4" y="1902.7" width="16.8" height="9.4" rx="3.8" fill="#000"/>
<rect x="637.4" y="1990.4" width="16.8" height="9.4" rx="3.8" fill="#000"/>
<rect x="637.4" y="2080.4" width="16.8" height="9.4" rx="3.8" fill="#000"/>
<rect x="637.4" y="2167.6" width="16.8" height="9.4" rx="3.8" fill="#000"/>
<path d="M782.1,2261.2 V2241.2 L785.6,2236.2 L789.1,2241.2 V2261.2 Z" fill="#000"/>
<path d="M931.0,2261.2 V2241.2 L934.5,2236.2 L938.0,2241.2 V2261.2 Z" fill="#000"/>
<text transform="translate(525.82,1657.50) scale(1.0500,1)" font-size="50.23" font-weight="bold" fill="#000" stroke="#000" stroke-width="0.7">1.40</text>
<text transform="translate(525.82,1740.60) scale(1.0500,1)" font-size="50.23" font-weight="bold" fill="#000" stroke="#000" stroke-width="0.7">1.20</text>
<text transform="translate(525.82,1833.80) scale(1.0500,1)" font-size="50.23" font-weight="bold" fill="#000" stroke="#000" stroke-width="0.7">1.00</text>
<text transform="translate(525.82,1919.50) scale(1.0500,1)" font-size="50.23" font-weight="bold" fill="#000" stroke="#000" stroke-width="0.7">0.80</text>
<text transform="translate(525.82,2016.80) scale(1.0500,1)" font-size="50.23" font-weight="bold" fill="#000" stroke="#000" stroke-width="0.7">0.60</text>
<text transform="translate(525.82,2115.20) scale(1.0500,1)" font-size="50.23" font-weight="bold" fill="#000" stroke="#000" stroke-width="0.7">0.40</text>
<text transform="translate(525.82,2193.20) scale(1.0500,1)" font-size="50.23" font-weight="bold" fill="#000" stroke="#000" stroke-width="0.7">0.20</text>
<text transform="translate(525.82,2289.30) scale(1.0500,1)" font-size="50.23" font-weight="bold" fill="#000" stroke="#000" stroke-width="0.7">0.00</text>
<text transform="translate(494.23,2254.27) rotate(-90) scale(1.0267,1)" font-size="50.11" font-weight="bold" stroke="#000" stroke-width="0.7">CDK6 mRNA level (% Con)</text>
<text transform="translate(631.29,2337.60) scale(1.0335,1)" font-size="50.91" font-weight="bold" fill="#000" stroke="#000" stroke-width="0.7">12</text>
<text transform="translate(794.95,2337.60) scale(0.9896,1)" font-size="50.53" font-weight="bold" fill="#000" stroke="#000" stroke-width="0.7">48</text>
<text transform="translate(882.45,2337.60) scale(1.0631,1)" font-size="49.06" font-weight="bold" fill="#000" stroke="#000" stroke-width="0.7">(h)</text>
<rect x="1279.0" y="1843.5" width="47.6" height="419.8" fill="#8c8c8c" stroke="#1c1c1c" stroke-width="2.6"/>
<rect x="1329.0" y="1785.5" width="49.3" height="477.8" fill="#3a3a3a" stroke="#1c1c1c" stroke-width="2.6"/>
<rect x="1455.1" y="1947.0" width="49.0" height="316.3" fill="#8c8c8c" stroke="#1c1c1c" stroke-width="2.6"/>
<rect x="1506.5" y="1991.7" width="47.1" height="271.6" fill="#3a3a3a" stroke="#1c1c1c" stroke-width="2.6"/>
<path d="M1304.9,1817.7 V1873.4 M1297.4,1817.7 H1312.4 M1297.4,1873.4 H1312.4" fill="none" stroke="#0a0a0a" stroke-width="3.1"/>
<path d="M1353.8,1746.5 V1821.5 M1346.3,1746.5 H1361.3 M1346.3,1821.5 H1361.3" fill="none" stroke="#0a0a0a" stroke-width="3.1"/>
<path d="M1482.0,1940.0 V1953.0 M1474.5,1940.0 H1489.5 M1474.5,1953.0 H1489.5" fill="none" stroke="#0a0a0a" stroke-width="3.1"/>
<path d="M1530.3,1978.7 V2001.2 M1522.8,1978.7 H1537.8 M1522.8,2001.2 H1537.8" fill="none" stroke="#0a0a0a" stroke-width="3.1"/>
<rect x="1239.5" y="1672.4" width="7" height="594.0" fill="#000"/>
<rect x="1239.5" y="2257.7" width="357.5" height="8.8" fill="#000"/>
<rect x="1243.0" y="1672.3" width="16.8" height="9.4" rx="3.8" fill="#000"/>
<rect x="1243.0" y="1755.9" width="16.8" height="9.4" rx="3.8" fill="#000"/>
<rect x="1243.0" y="1839.7" width="16.8" height="9.4" rx="3.8" fill="#000"/>
<rect x="1243.0" y="1922.7" width="16.8" height="9.4" rx="3.8" fill="#000"/>
<rect x="1243.0" y="2006.5" width="16.8" height="9.4" rx="3.8" fill="#000"/>
<rect x="1243.0" y="2091.3" width="16.8" height="9.4" rx="3.8" fill="#000"/>
<rect x="1243.0" y="2173.7" width="16.8" height="9.4" rx="3.8" fill="#000"/>
<path d="M1412.0,2262.1 V2242.1 L1415.5,2237.1 L1419.0,2242.1 V2262.1 Z" fill="#000"/>
<path d="M1589.5,2262.1 V2242.1 L1593.0,2237.1 L1596.5,2242.1 V2262.1 Z" fill="#000"/>
<text transform="translate(1130.82,1654.40) scale(1.0500,1)" font-size="50.23" font-weight="bold" fill="#000" stroke="#000" stroke-width="0.7">1.40</text>
<text transform="translate(1130.82,1737.20) scale(1.0500,1)" font-size="50.23" font-weight="bold" fill="#000" stroke="#000" stroke-width="0.7">1.20</text>
<text transform="translate(1130.82,1829.90) scale(1.0500,1)" font-size="50.23" font-weight="bold" fill="#000" stroke="#000" stroke-width="0.7">1.00</text>
<text transform="translate(1130.82,1916.10) scale(1.0500,1)" font-size="50.23" font-weight="bold" fill="#000" stroke="#000" stroke-width="0.7">0.80</text>
<text transform="translate(1130.82,2013.40) scale(1.0500,1)" font-size="50.23" font-weight="bold" fill="#000" stroke="#000" stroke-width="0.7">0.60</text>
<text transform="translate(1130.82,2111.80) scale(1.0500,1)" font-size="50.23" font-weight="bold" fill="#000" stroke="#000" stroke-width="0.7">0.40</text>
<text transform="translate(1130.82,2190.30) scale(1.0500,1)" font-size="50.23" font-weight="bold" fill="#000" stroke="#000" stroke-width="0.7">0.20</text>
<text transform="translate(1130.82,2285.60) scale(1.0500,1)" font-size="50.23" font-weight="bold" fill="#000" stroke="#000" stroke-width="0.7">0.00</text>
<text transform="translate(1094.23,2280.53) rotate(-90) scale(1.0089,1)" font-size="50.11" font-weight="bold" stroke="#000" stroke-width="0.7">Cyclin D mRNA level (% Con)</text>
<text transform="translate(1293.43,2337.60) scale(1.0246,1)" font-size="50.91" font-weight="bold" fill="#000" stroke="#000" stroke-width="0.7">12</text>
<text transform="translate(1457.44,2337.60) scale(1.0063,1)" font-size="50.53" font-weight="bold" fill="#000" stroke="#000" stroke-width="0.7">48</text>
<text transform="translate(1545.64,2337.60) scale(1.0666,1)" font-size="49.06" font-weight="bold" fill="#000" stroke="#000" stroke-width="0.7">(h)</text>
</g>
<rect x="0" y="0" width="2031" height="64" fill="#000"/>
<rect x="0" y="0" width="38" height="2379" fill="#000"/>
<rect x="2023" y="0" width="8" height="2379" fill="#000"/>
<rect x="0" y="2370" width="2031" height="9" fill="#000"/>
</svg></body></html>
